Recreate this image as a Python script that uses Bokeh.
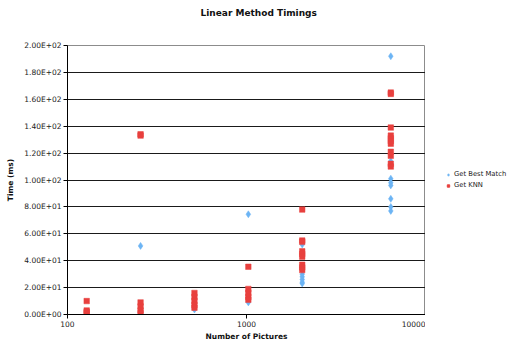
from bokeh.plotting import figure
from bokeh.layouts import row
from bokeh.models import (FixedTicker, CustomJSTickFormatter, Range1d, Legend, LegendItem,
                          ColumnDataSource, Title)
from bokeh.embed import file_html
from bokeh.resources import INLINE

# ---- data ----
best_x = [128, 128, 256, 256, 512, 512, 1024, 1024, 1024,
          2048, 2048, 2048, 2048, 2048, 2048,
          6400, 6400, 6400, 6400, 6400, 6400, 6400, 6400]
best_y = [1.0, 0.5, 51.0, 0.5, 3.7, 4.5, 74.5, 9.0, 10.0,
          52.0, 30.0, 28.0, 26.0, 24.0, 23.0,
          192.0, 114.0, 101.0, 98.0, 96.0, 86.0, 80.0, 77.0]

knn_x = [128, 128, 128, 128,
         256, 256, 256, 256, 256, 256,
         512, 512, 512, 512, 512,
         1024, 1024, 1024, 1024, 1024,
         2048, 2048, 2048, 2048, 2048, 2048, 2048, 2048, 2048,
         6400, 6400, 6400, 6400, 6400, 6400, 6400, 6400, 6400, 6400, 6400]
knn_y = [10.0, 3.0, 2.0, 1.0,
         134.0, 133.0, 9.0, 6.0, 3.0, 1.0,
         16.0, 13.0, 10.0, 7.0, 5.0,
         35.5, 19.0, 16.0, 13.0, 11.0,
         78.0, 55.0, 54.0, 47.0, 45.0, 43.0, 37.0, 35.0, 33.0,
         165.0, 164.0, 139.0, 133.0, 131.0, 129.0, 127.0, 121.0, 118.0, 112.0, 110.0]

y_ticks = [0, 20, 40, 60, 80, 100, 120, 140, 160, 180, 200]
x_ticks = [100, 1000, 10000]
series_names = ["Get Best Match", "Get KNN"]
chart_title = "Linear Method Timings"

FONT = "DejaVu Sans"
BLUE = "#6cb4f4"
RED = "#e8403e"

p = figure(width=425, height=343, output_backend="svg", toolbar_location=None,
           x_axis_type="log", x_range=Range1d(100, 10000), y_range=Range1d(0, 200),
           min_border_left=67, min_border_right=0, min_border_top=43, min_border_bottom=28)

# spacer panel (innermost) then the real title above it
p.add_layout(Title(text=" ", text_font_size="10px", text_font=FONT), "above")
p.add_layout(Title(text=chart_title, text_font=FONT, text_font_size="9px",
                   text_font_style="bold", align="left", offset=133,
                   text_color="#111111"), "above")

p.background_fill_color = "white"
p.border_fill_color = "white"
p.outline_line_color = "#8c8c8c"
p.outline_line_width = 1

p.yaxis.ticker = FixedTicker(ticks=y_ticks)
p.yaxis.formatter = CustomJSTickFormatter(code="""
var s = tick.toExponential(2).toUpperCase();
var parts = s.split('E');
var e = parseInt(parts[1]);
var sign = e < 0 ? '-' : '+';
var a = Math.abs(e);
return parts[0] + 'E' + sign + (a < 10 ? '0' : '') + a;
""")
p.yaxis.axis_label = "Time (ms)"
p.xaxis.ticker = FixedTicker(ticks=x_ticks, minor_ticks=[])
p.xaxis.formatter = CustomJSTickFormatter(code="return tick.toFixed(0);")
p.xaxis.axis_label = "Number of Pictures"

for ax in (p.xaxis[0], p.yaxis[0]):
    ax.axis_line_color = "black"
    ax.axis_line_width = 1
    ax.major_tick_line_color = "black"
    ax.major_tick_out = 4
    ax.major_tick_in = 0
    ax.minor_tick_line_color = None
    ax.major_label_text_font = FONT
    ax.major_label_text_font_size = "7.5px"
    ax.major_label_text_color = "#222222"
    ax.axis_label_text_font = FONT
    ax.axis_label_text_font_size = "7.5px"
    ax.axis_label_text_font_style = "bold"
    ax.axis_label_text_color = "#111111"
p.yaxis.major_label_standoff = 2
p.yaxis.axis_label_standoff = 6
p.xaxis.major_label_standoff = 2
p.xaxis.axis_label_standoff = 2

p.xgrid.grid_line_color = None
p.ygrid.grid_line_color = "#1a1a1a"
p.ygrid.grid_line_width = 1

src_b = ColumnDataSource(dict(x=best_x, y=best_y))
src_k = ColumnDataSource(dict(x=knn_x, y=knn_y))
p.scatter("x", "y", source=src_b, marker="diamond", size=7,
          fill_color=BLUE, line_color=BLUE, line_width=0.5)
p.scatter("x", "y", source=src_k, marker="square", size=5.5,
          fill_color=RED, line_color=RED, line_width=0.5)

# side panel holding the legend (its own renderers sit outside its visible range)
q = figure(width=90, height=343, output_backend="svg", toolbar_location=None,
           x_range=Range1d(0, 1), y_range=Range1d(0, 1),
           x_axis_location=None, y_axis_location=None,
           min_border_left=0, min_border_right=0, min_border_top=0, min_border_bottom=0)
q.outline_line_color = None
q.xgrid.grid_line_color = None
q.ygrid.grid_line_color = None
q.background_fill_color = "white"
q.border_fill_color = "white"
lb = q.scatter(x=[-5], y=[-5], marker="diamond", size=6, fill_color=BLUE, line_color=BLUE)
lk = q.scatter(x=[-5], y=[-5], marker="square", size=5, fill_color=RED, line_color=RED)

legend = Legend(items=[LegendItem(label=series_names[0], renderers=[lb]),
                       LegendItem(label=series_names[1], renderers=[lk])],
                location=(20, 125))
legend.label_text_font = FONT
legend.label_text_font_size = "6.8px"
legend.label_text_color = "#222222"
legend.glyph_width = 6
legend.glyph_height = 7
legend.label_height = 7
legend.label_standoff = 3
legend.spacing = 3
legend.padding = 0
legend.margin = 0
legend.border_line_color = None
legend.background_fill_alpha = 0
q.add_layout(legend)

layout = row(p, q, spacing=0)
open("out.html", "w").write(file_html(layout, INLINE))
